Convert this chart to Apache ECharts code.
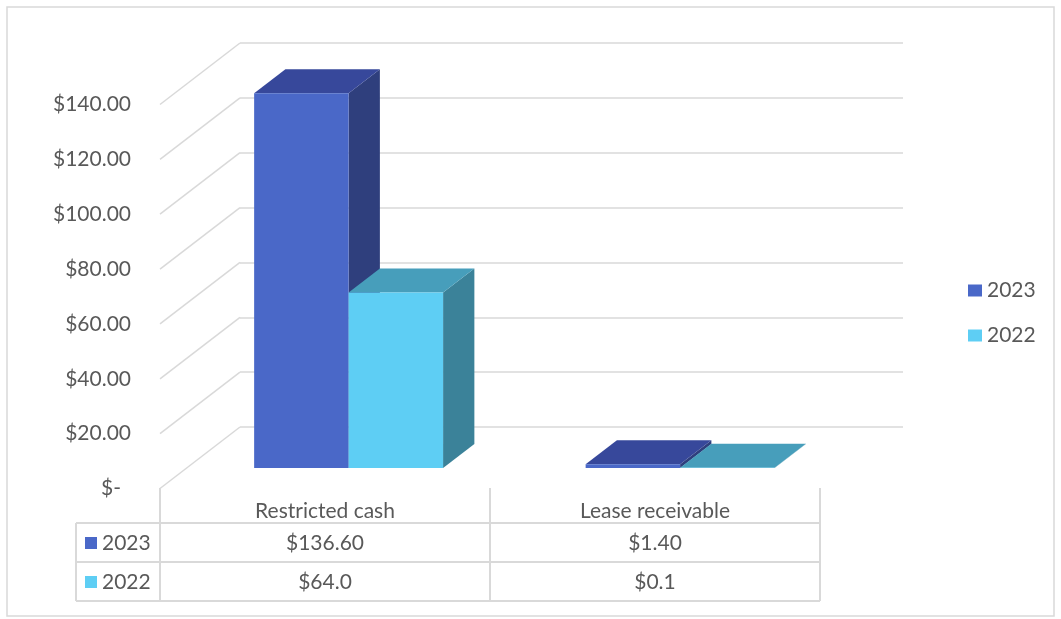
<!DOCTYPE html>
<html>
<head>
<meta charset="utf-8">
<script src="https://cdn.jsdelivr.net/npm/echarts@6/dist/echarts.min.js"></script>
<style>
  html, body { margin: 0; padding: 0; background: #fff; }
  #chart { width: 1061px; height: 619px; }
</style>
</head>
<body>
<div id="chart"></div>
<script>
// data
var categories = ['Restricted cash', 'Lease receivable'];
var seriesNames = ['2023', '2022'];
var values2023 = [136.6, 1.4];
var values2022 = [64.0, 0.1];
var decimals = [2, 1]; // how the table prints each year
var yTicks = [0, 20, 40, 60, 80, 100, 120, 140];

var FONT = 'Lato';
var FS = 21;
var TXT = '#595959';
var LINE = '#d9d9d9';
// oblique depth: back wall -> front edge of the floor
var DX = 80, DY = 61.5;
var D_FRONT = 0.667, D_BACK = 0.276;

var faces = [
  { front: '#4A68C8', top: '#37489B', side: '#2F3F7D' },
  { front: '#5ECEF4', top: '#479EBB', side: '#3B8299' }
];

function money(v, d) {
  if (v === 0) return '$-';
  return '$' + v.toFixed(d);
}

var chart = echarts.init(document.getElementById('chart'));

function renderBar(s) {
  return function (params, api) {
    var c = api.value(0), v = api.value(1);
    var band = api.size([1, 0])[0];
    var base = api.coord([c, 0]);
    var top = api.coord([c, v]);
    var w = band * 0.285;
    var xl = base[0] - band / 2 + band * 0.2036 + s * w;
    var xr = xl + w;
    var f = faces[s];
    function P(x, y, d) { return [x - DX * d, y + DY * d]; }
    return {
      type: 'group',
      children: [
        {
          type: 'polygon',
          shape: { points: [P(xr, top[1], D_FRONT), P(xr, top[1], D_BACK), P(xr, base[1], D_BACK), P(xr, base[1], D_FRONT)] },
          style: { fill: f.side }
        },
        {
          type: 'polygon',
          shape: { points: [P(xl, top[1], D_FRONT), P(xr, top[1], D_FRONT), P(xr, top[1], D_BACK), P(xl, top[1], D_BACK)] },
          style: { fill: f.top }
        },
        {
          type: 'polygon',
          shape: { points: [P(xl, top[1], D_FRONT), P(xr, top[1], D_FRONT), P(xr, base[1], D_FRONT), P(xl, base[1], D_FRONT)] },
          style: { fill: f.front }
        }
      ]
    };
  };
}

// table texts under the categories
var tableRows = [];
[values2023, values2022].forEach(function (arr, s) {
  arr.forEach(function (v, c) { tableRows.push([c, s, v]); });
});
var rowY = [543, 582];

var graphic = [
  { type: 'rect', shape: { x: 7, y: 7, width: 1047, height: 609 }, style: { fill: null, stroke: LINE, lineWidth: 1.5 }, silent: true }
];
// table grid lines
[[160, 488, 160, 601], [490, 488, 490, 601], [820, 488, 820, 601], [76, 523, 76, 601],
 [76, 523, 820, 523], [76, 562, 820, 562], [76, 601, 820, 601]].forEach(function (l) {
  graphic.push({ type: 'line', shape: { x1: l[0], y1: l[1], x2: l[2], y2: l[3] }, style: { stroke: LINE, lineWidth: 2 }, silent: true });
});
seriesNames.forEach(function (name, s) {
  graphic.push({ type: 'rect', shape: { x: 85, y: rowY[s] - 6, width: 12, height: 12 }, style: { fill: faces[s].front }, silent: true });
  graphic.push({ type: 'text', x: 102, y: rowY[s], style: { text: name, fill: TXT, font: FS + 'px ' + FONT, verticalAlign: 'middle' }, silent: true });
});

var option = {
  animation: false,
  backgroundColor: '#fff',
  textStyle: { fontFamily: FONT },
  graphic: graphic,
  legend: {
    data: seriesNames,
    orient: 'vertical',
    left: 963,
    top: 275,
    itemWidth: 14,
    itemHeight: 12,
    itemGap: 24,
    icon: 'rect',
    textStyle: { color: TXT, fontSize: FS, fontFamily: FONT }
  },
  grid: [
    { left: 240, top: 43, width: 663, height: 384 },
    { left: 160, top: 104.5, width: 660, height: 384 }
  ],
  xAxis: [
    { type: 'category', gridIndex: 0, data: categories, show: false },
    {
      type: 'category', gridIndex: 1, data: categories,
      axisLine: { show: false }, axisTick: { show: false },
      axisLabel: { margin: 12, color: TXT, fontSize: FS, fontFamily: FONT }
    }
  ],
  yAxis: [
    {
      type: 'value', gridIndex: 0, min: 0, max: 140, interval: 20,
      axisLabel: { show: false }, axisLine: { show: false }, axisTick: { show: false },
      splitLine: { lineStyle: { color: LINE, width: 1.5 } }
    },
    {
      type: 'value', gridIndex: 1, min: 0, max: 140, interval: 20,
      axisLine: { show: false }, axisTick: { show: false }, splitLine: { show: false },
      axisLabel: {
        margin: 29, color: TXT, fontSize: FS, fontFamily: FONT,
        formatter: function (v) { return v === 0 ? '{z|$-}' : money(v, 2); },
        rich: { z: { color: TXT, fontSize: FS, fontFamily: FONT, padding: [0, 10, 0, 0] } }
      }
    }
  ],
  series: [
    {
      type: 'custom', name: 'walls', xAxisIndex: 0, yAxisIndex: 0, silent: true,
      data: yTicks.map(function (v) { return [0, v]; }),
      renderItem: function (params, api) {
        var p = api.coord([0, api.value(1)]);
        var band = api.size([1, 0])[0];
        var x0 = p[0] - band / 2;
        return {
          type: 'line',
          shape: { x1: x0, y1: p[1], x2: x0 - DX, y2: p[1] + DY },
          style: { stroke: LINE, lineWidth: 1.5 }
        };
      }
    },
    {
      type: 'custom', name: seriesNames[0], xAxisIndex: 0, yAxisIndex: 0,
      itemStyle: { color: faces[0].front },
      data: values2023.map(function (v, i) { return [i, v]; }),
      renderItem: renderBar(0)
    },
    {
      type: 'custom', name: seriesNames[1], xAxisIndex: 0, yAxisIndex: 0,
      itemStyle: { color: faces[1].front },
      data: values2022.map(function (v, i) { return [i, v]; }),
      renderItem: renderBar(1)
    },
    {
      type: 'custom', name: 'table', xAxisIndex: 1, yAxisIndex: 1, silent: true,
      encode: { x: 0, y: 1 },
      data: tableRows,
      renderItem: function (params, api) {
        var c = api.value(0), s = api.value(1), v = api.value(2);
        var x = api.coord([c, 0])[0];
        return {
          type: 'text',
          x: x, y: rowY[s],
          style: { text: money(v, decimals[s]), fill: TXT, font: FS + 'px ' + FONT, align: 'center', verticalAlign: 'middle' }
        };
      }
    }
  ]
};

chart.setOption(option);
</script>
</body>
</html>
